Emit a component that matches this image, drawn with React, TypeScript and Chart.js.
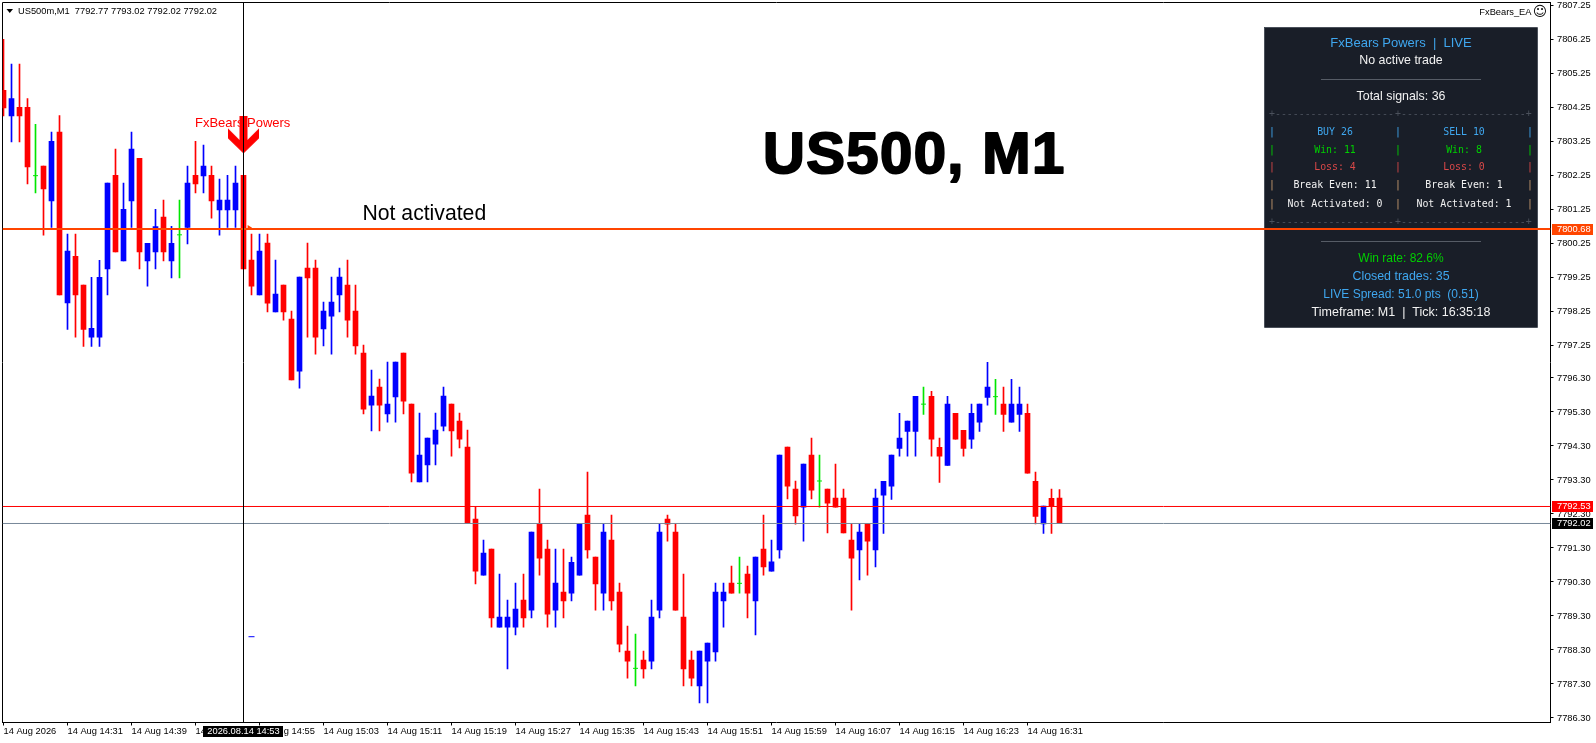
import { useEffect, useRef } from "react";
import { Chart, registerables } from "chart.js";

Chart.register(...registerables);

const opens = [
  7804.76,7804.01,7804.26,7804.26,7802.25,7802.53,7801.51,7803.53,7798.51,7799.88,
  7799.03,7797.50,7797.50,7799.51,7802.26,7799.74,7801.51,7802.76,7799.74,7800.01,
  7801.03,7799.74,7800.51,7800.73,7802.26,7802.24,7802.26,7801.24,7801.24,7801.24,
  7802.26,7799.77,7798.74,7800.27,7798.24,7799.03,7798.03,7796.50,7799.53,7799.53,
  7797.74,7798.12,7798.74,7799.03,7798.27,7797.03,7795.50,7796.03,7795.24,7795.74,
  7797.03,7795.53,7793.24,7793.74,7794.35,7794.88,7795.53,7795.03,7794.27,7792.15,
  7790.50,7791.27,7788.97,7788.97,7788.97,7789.77,7789.47,7792.02,7791.27,7789.47,
  7790.00,7789.97,7790.50,7792.27,7791.03,7789.97,7791.53,7790.00,7788.27,7787.76,
  7788.00,7787.97,7789.47,7792.15,7791.77,7789.27,7788.00,7787.24,7787.97,7788.24,
  7789.74,7790.27,7790.26,7790.53,7789.74,7791.27,7790.62,7791.24,7794.27,7793.03,
  7792.50,7794.03,7793.27,7793.03,7792.77,7792.77,7791.53,7791.24,7792.02,7791.24,
  7792.85,7793.12,7794.23,7794.73,7794.73,7795.53,7795.76,7794.26,7793.73,7795.26,
  7794.76,7794.50,7795.00,7795.73,7795.75,7795.53,7795.00,7795.23,7795.26,7793.26,
  7792.01,7792.76,7792.77,
];
const closes = [
  7804.24,7804.52,7804.01,7802.51,7802.25,7801.86,7803.26,7798.74,7800.03,7798.74,
  7797.73,7797.76,7799.26,7802.03,7800.01,7801.26,7803.03,7800.01,7800.26,7800.75,
  7800.01,7800.26,7800.51,7802.03,7802.01,7802.53,7801.51,7801.53,7801.53,7802.03,
  7799.51,7799.00,7800.03,7798.50,7798.77,7798.24,7796.24,7799.27,7799.24,7797.50,
  7798.27,7798.53,7799.27,7798.00,7797.24,7795.38,7795.77,7795.50,7795.53,7796.77,
  7795.62,7793.50,7794.03,7794.53,7794.77,7795.77,7794.74,7794.50,7792.02,7790.62,
  7791.15,7789.24,7789.27,7789.27,7789.50,7789.24,7791.77,7791.00,7789.35,7790.27,
  7789.74,7790.88,7792.02,7791.24,7790.24,7791.77,7789.74,7788.47,7787.97,7787.76,
  7787.74,7789.27,7791.77,7792.00,7789.47,7787.74,7787.47,7788.27,7788.50,7790.00,
  7790.00,7789.97,7790.26,7789.97,7791.03,7790.74,7790.89,7794.03,7793.12,7792.24,
  7793.77,7793.00,7793.27,7792.62,7792.50,7791.74,7791.00,7791.77,7791.50,7792.77,
  7793.26,7794.03,7794.53,7795.03,7795.76,7795.53,7794.50,7794.00,7795.53,7794.50,
  7794.23,7795.26,7795.53,7796.03,7795.75,7795.23,7795.53,7795.53,7793.50,7792.23,
  7792.53,7792.53,7792.02,
];
const highs = [
  7806.26,7805.53,7805.53,7804.52,7803.76,7802.53,7803.53,7804.02,7800.53,7800.53,
  7799.03,7799.26,7799.76,7802.03,7803.03,7802.03,7803.53,7802.76,7800.26,7801.26,
  7801.53,7800.76,7801.53,7802.53,7803.26,7803.15,7802.53,7802.15,7802.26,7802.53,
  7802.26,7800.53,7800.53,7800.53,7799.77,7799.03,7798.27,7799.27,7800.27,7799.77,
  7798.53,7799.27,7799.53,7799.77,7799.03,7797.27,7796.53,7796.27,7796.77,7796.77,
  7797.03,7795.53,7795.27,7794.53,7795.27,7796.03,7795.53,7795.27,7794.77,7792.52,
  7791.53,7791.27,7790.53,7789.77,7790.27,7790.53,7791.77,7793.03,7791.53,7791.27,
  7791.27,7791.03,7792.02,7793.53,7791.03,7792.02,7792.27,7790.27,7789.00,7788.77,
  7788.27,7789.77,7792.02,7792.27,7792.02,7790.53,7788.27,7788.27,7788.50,7790.27,
  7790.27,7790.77,7791.03,7790.77,7791.03,7792.27,7791.53,7794.03,7794.27,7793.27,
  7793.77,7794.53,7794.03,7793.03,7793.77,7793.03,7792.02,7792.02,7792.02,7793.03,
  7793.26,7794.03,7795.26,7795.03,7795.76,7796.03,7795.91,7794.53,7795.76,7795.26,
  7794.76,7795.53,7795.53,7796.76,7796.26,7796.03,7796.26,7796.03,7795.53,7793.53,
  7792.53,7793.03,7793.02,
];
const lows = [
  7804.01,7803.24,7803.24,7802.01,7801.74,7800.50,7800.73,7798.74,7797.73,7797.50,
  7797.23,7797.23,7797.23,7798.74,7800.01,7799.74,7800.73,7799.51,7799.00,7799.51,
  7799.74,7799.24,7799.24,7800.24,7801.74,7801.74,7801.00,7800.50,7800.73,7800.73,
  7799.51,7798.74,7798.74,7798.24,7798.24,7798.00,7796.24,7796.00,7797.50,7797.00,
  7797.24,7797.00,7798.24,7797.50,7797.00,7795.24,7794.74,7794.74,7795.00,7795.00,
  7795.24,7793.24,7793.24,7793.24,7793.74,7794.74,7794.00,7794.24,7792.02,7790.24,
  7790.50,7788.97,7788.97,7787.74,7788.74,7788.97,7789.24,7790.50,7788.97,7788.97,
  7789.24,7789.74,7790.50,7791.00,7789.47,7789.47,7789.47,7788.24,7787.47,7787.24,
  7787.47,7787.74,7789.24,7791.50,7789.47,7787.24,7787.24,7786.74,7786.74,7787.97,
  7788.97,7789.97,7789.97,7789.24,7788.74,7790.50,7790.62,7791.00,7792.74,7792.00,
  7791.50,7792.74,7792.50,7791.74,7792.50,7791.74,7789.47,7790.36,7790.50,7790.74,
  7791.73,7792.73,7794.00,7794.00,7794.00,7795.23,7794.00,7793.23,7793.73,7794.50,
  7794.00,7794.23,7794.73,7795.50,7795.23,7794.73,7795.00,7794.73,7793.50,7792.01,
  7791.73,7791.73,7792.02,
];

const timeTickIndex = [0,8,16,24,32,40,48,56,64,72,80,88,96,104,112,120,128];
const timeTickLabels = [
  "14 Aug 2026","14 Aug 14:31","14 Aug 14:39","14 Aug 14:47","14 Aug 14:55","14 Aug 15:03",
  "14 Aug 15:11","14 Aug 15:19","14 Aug 15:27","14 Aug 15:35","14 Aug 15:43","14 Aug 15:51",
  "14 Aug 15:59","14 Aug 16:07","14 Aug 16:15","14 Aug 16:23","14 Aug 16:31",
];
const priceTicks = [
  7807.25,7806.25,7805.25,7804.25,7803.25,7802.25,7801.25,7800.25,7799.25,7798.25,7797.25,
  7796.30,7795.30,7794.30,7793.30,7792.30,7791.30,7790.30,7789.30,7788.30,7787.30,7786.30,
];

const entryPrice = 7800.68;
const askPrice = 7792.53;
const askLineLevel = 7792.52;
const bidPrice = 7792.02;
const crossIndex = 30;
const crossLabel = "2026.08.14 14:53";
const signalPoint = { x: 30, y: 7803.45 };
const entryMark = { x: 30.7, y: 7800.72 };
const exitMark = { x: 31, y: 7788.69 };
const headerText = "US500m,M1  7792.77 7793.02 7792.02 7792.02";

const X_MIN = -0.125, X_MAX = 193.375, Y_MIN = 7786.167, Y_MAX = 7807.343;
const BLUE = "#0000ff", RED = "#ff0000", GREEN = "#00e600", ORANGE = "#ff4500";
const P_BLUE = "#3fa7ef", P_GREEN = "#00d000", P_RED = "#d94848", P_WHITE = "#f2f2f2", P_TAN = "#c79a6e";
const SANS = '"Liberation Sans", Arial, sans-serif';
const MONO = '"DejaVu Sans Mono", monospace';
const TICK_SIZE = 9.3;
const TICK_FONT = `${TICK_SIZE}px ${SANS}`;

function candleColor(i: number) {
  return closes[i] > opens[i] ? BLUE : closes[i] < opens[i] ? RED : GREEN;
}
const idx = opens.map((_, i) => i);
const solid = idx.filter((i) => opens[i] !== closes[i]);
const doji = idx.filter((i) => opens[i] === closes[i]);

function arrowImage() {
  const c = document.createElement("canvas");
  c.width = 31; c.height = 38;
  const g = c.getContext("2d")!;
  const pts = [[11.5,0],[19.5,0],[19.5,24],[31,12.5],[31,22.5],[15.5,37.5],[0,22.5],[0,12.5],[11.5,24]];
  g.fillStyle = RED;
  g.beginPath();
  pts.forEach(([x, y], i) => (i ? g.lineTo(x, y) : g.moveTo(x, y)));
  g.closePath();
  g.fill();
  return c;
}

function text(ctx: CanvasRenderingContext2D, s: string, x: number, y: number, font: string, color: string, align: CanvasTextAlign = "center") {
  ctx.font = font; ctx.fillStyle = color; ctx.textAlign = align; ctx.textBaseline = "middle";
  ctx.fillText(s, x, y);
}

function drawPanel(ctx: CanvasRenderingContext2D) {
  const f = `12.4px ${SANS}`;
  const m = `9.9px ${MONO}`;
  ctx.fillStyle = "#191e28";
  ctx.fillRect(1264, 27, 273, 300);
  ctx.strokeStyle = "#4a505a"; ctx.lineWidth = 1;
  ctx.strokeRect(1264.5, 27.5, 273, 300);
  const cx = 1401;
  text(ctx, "FxBears Powers  |  LIVE", cx, 43.5, `13px ${SANS}`, P_BLUE);
  text(ctx, "No active trade", cx, 61, f, P_WHITE);
  ctx.fillStyle = "#565c66";
  ctx.fillRect(1321, 79, 160, 1);
  ctx.fillRect(1321, 241, 160, 1);
  text(ctx, "Total signals: 36", cx, 97, f, P_WHITE);
  const dashL = "+" + "-".repeat(20), dashR = "+" + "-".repeat(21) + "+";
  for (const y of [114, 222]) {
    text(ctx, dashL, 1269, y, m, "#4b515c", "left");
    text(ctx, dashR, 1395, y, m, "#4b515c", "left");
  }
  const rows: [number, string, string, string, string][] = [
    [132, "BUY 26", "SELL 10", P_BLUE, P_BLUE],
    [150, "Win: 11", "Win: 8", P_GREEN, P_GREEN],
    [167.5, "Loss: 4", "Loss: 0", P_RED, P_RED],
    [185.5, "Break Even: 11", "Break Even: 1", P_WHITE, P_TAN],
    [204, "Not Activated: 0", "Not Activated: 1", P_WHITE, P_TAN],
  ];
  for (const [y, a, b, col, pipe] of rows) {
    text(ctx, a, 1335, y, m, col);
    text(ctx, b, 1464, y, m, col);
    for (const px of [1272, 1398, 1530]) text(ctx, "|", px, y, m, pipe);
  }
  text(ctx, "Win rate: 82.6%", cx, 259, `12px ${SANS}`, P_GREEN);
  text(ctx, "Closed trades: 35", cx, 277, f, P_BLUE);
  text(ctx, "LIVE Spread: 51.0 pts  (0.51)", cx, 295, `12px ${SANS}`, P_BLUE);
  text(ctx, "Timeframe: M1  |  Tick: 16:35:18", cx, 313, `12.5px ${SANS}`, P_WHITE);
}

const overlay = {
  id: "overlay",
  beforeDatasetsDraw(chart: any) {
    const ctx: CanvasRenderingContext2D = chart.ctx;
    const { left, top, right, bottom } = chart.chartArea;
    ctx.save();
    ctx.strokeStyle = "#000"; ctx.lineWidth = 1;
    ctx.beginPath();
    ctx.moveTo(left, bottom);
    ctx.lineTo(left, top);
    ctx.lineTo(right, top);
    ctx.stroke();
    ctx.beginPath();
    ctx.moveTo(6.5, 9); ctx.lineTo(13, 9); ctx.lineTo(9.75, 13); ctx.closePath();
    ctx.fillStyle = "#000"; ctx.fill();
    text(ctx, headerText, 18, 11, TICK_FONT, "#000", "left");
    text(ctx, "FxBears_EA", 1531.5, 12, TICK_FONT, "#000", "right");
    text(ctx, "\u263A", 1540, 12.5, `14px "DejaVu Sans"`, "#000");
    text(ctx, "FxBears Powers", 195, 123.5, `13px ${SANS}`, RED, "left");
    text(ctx, "Not activated", 362.5, 214.5, `21.2px ${SANS}`, "#000", "left");
    ctx.lineWidth = 2; ctx.strokeStyle = "#000"; ctx.lineJoin = "round";
    (ctx as any).letterSpacing = "1.4px";
    text(ctx, "US500, M1", 763, 157, `bold 58px ${SANS}`, "#000", "left");
    ctx.strokeText("US500, M1", 763, 157);
    (ctx as any).letterSpacing = "0px";
    drawPanel(ctx);
    ctx.restore();
  },
  afterDraw(chart: any) {
    const ctx: CanvasRenderingContext2D = chart.ctx;
    const yS = chart.scales.y, xS = chart.scales.x;
    ctx.save();
    const tag = (price: number, level: number, bg: string) => {
      const y = yS.getPixelForValue(level);
      ctx.fillStyle = bg;
      ctx.fillRect(1552, Math.round(y) - 5, 41, 11);
      text(ctx, price.toFixed(2), 1557, Math.round(y) + 0.5, TICK_FONT, "#fff", "left");
    };
    tag(entryPrice, entryPrice, ORANGE);
    tag(askPrice, askLineLevel, RED);
    tag(bidPrice, bidPrice, "#000");
    ctx.fillStyle = "#000";
    const cx = xS.getPixelForValue(crossIndex);
    ctx.fillRect(203, 726, 80, 11);
    text(ctx, crossLabel, cx, 731.7, TICK_FONT, "#fff");
    ctx.restore();
  },
};

const hLine = (price: number, color: string, width: number) => ({
  type: "line", order: 0, borderColor: color, borderWidth: width, pointRadius: 0,
  data: [{ x: X_MIN, y: price }, { x: X_MAX, y: price }],
});

export default function App() {
  const ref = useRef<HTMLCanvasElement>(null);
  useEffect(() => {
    document.body.style.margin = "0";
    document.documentElement.style.overflow = "hidden";
    const chart = new Chart(ref.current!, {
      type: "bar",
      plugins: [overlay],
      data: {
        datasets: [
          {
            type: "line", order: 0, borderColor: "#000", borderWidth: 1, pointRadius: 0,
            data: [{ x: crossIndex, y: Y_MIN }, { x: crossIndex, y: Y_MAX }],
          },
          hLine(entryPrice, ORANGE, 2),
          hLine(askLineLevel, RED, 1),
          hLine(bidPrice, "#778899", 1),
          {
            type: "scatter", order: 1, pointStyle: arrowImage(),
            data: [signalPoint],
          },
          {
            type: "scatter", order: 1, pointStyle: "triangle", rotation: 90, pointRadius: 3,
            backgroundColor: ORANGE, borderColor: ORANGE, borderWidth: 0, data: [entryMark],
          },
          {
            type: "scatter", order: 1, pointStyle: "line", pointRadius: 3,
            borderColor: BLUE, borderWidth: 1, data: [exitMark],
          },
          {
            type: "scatter", order: 1, pointStyle: "line", pointRadius: 2.5,
            borderColor: GREEN, borderWidth: 1,
            data: doji.map((i) => ({ x: i, y: closes[i] })),
          },
          {
            type: "bar", order: 2, grouped: false, barThickness: 5, borderWidth: 0,
            backgroundColor: solid.map(candleColor),
            data: solid.map((i) => ({ x: i, y: [Math.min(opens[i], closes[i]), Math.max(opens[i], closes[i])] })),
          },
          {
            type: "bar", order: 3, grouped: false, barThickness: 1, borderWidth: 0,
            backgroundColor: idx.map(candleColor),
            data: idx.map((i) => ({ x: i, y: [lows[i], highs[i]] })),
          },
        ] as any,
      },
      options: {
        animation: false,
        responsive: false,
        devicePixelRatio: 1,
        events: [],
        layout: { autoPadding: false, padding: { left: 2.5, top: 2.5, right: 0, bottom: 0 } },
        plugins: { legend: { display: false }, tooltip: { enabled: false } },
        scales: {
          x: {
            type: "linear", position: "bottom", min: X_MIN, max: X_MAX, offset: false,
            grid: { display: true, drawOnChartArea: false, drawTicks: true, tickLength: 3, color: "#000", offset: false },
            border: { display: true, color: "#000" },
            ticks: {
              autoSkip: false, maxRotation: 0, minRotation: 0, align: "start", padding: 0,
              color: "#000", font: { family: "Liberation Sans", size: TICK_SIZE },
              callback: (v: any) => timeTickLabels[timeTickIndex.indexOf(Number(v))] ?? "",
            },
            afterBuildTicks: (s: any) => { s.ticks = timeTickIndex.map((value) => ({ value })); },
            afterFit: (s: any) => { s.height = 20.5; s.paddingLeft = s.paddingRight = s.paddingTop = s.paddingBottom = 0; },
          },
          y: {
            type: "linear", position: "right", min: Y_MIN, max: Y_MAX,
            grid: { display: true, drawOnChartArea: false, drawTicks: true, tickLength: 3, color: "#000" },
            border: { display: true, color: "#000" },
            ticks: {
              autoSkip: false, padding: 3.5, color: "#000", font: { family: "Liberation Sans", size: TICK_SIZE },
              callback: (v: any) => Number(v).toFixed(2),
            },
            afterBuildTicks: (s: any) => { s.ticks = priceTicks.map((value) => ({ value })); },
            afterFit: (s: any) => { s.width = 45.5; s.paddingLeft = s.paddingRight = s.paddingTop = s.paddingBottom = 0; },
          },
        },
      } as any,
    });
    return () => chart.destroy();
  }, []);
  return (
    <div style={{ position: "absolute", left: 0, top: 0, width: 1596, height: 743, background: "#fff" }}>
      <canvas ref={ref} width={1596} height={743} style={{ display: "block" }} />
    </div>
  );
}
